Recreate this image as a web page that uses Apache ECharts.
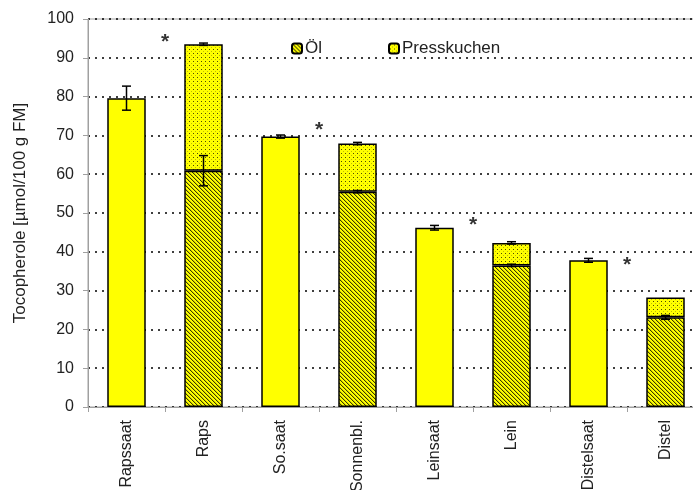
<!DOCTYPE html>
<html>
<head>
<meta charset="utf-8">
<script src="https://cdn.jsdelivr.net/npm/echarts@6/dist/echarts.min.js"></script>
<style>
html,body{margin:0;padding:0;background:#fff}
#main{width:693px;height:490px}
</style>
</head>
<body>
<div id="main"></div>
<script>
var categories = ['Rapssaat', 'Raps', 'So.saat', 'Sonnenbl.', 'Leinsaat', 'Lein', 'Distelsaat', 'Distel'];
var saat = [79.6, '-', 69.7, '-', 46.2, '-', 37.8, '-'];
var oel = ['-', 60.9, '-', 55.5, '-', 36.5, '-', 23.1];
var presskuchen = ['-', 32.6, '-', 12.4, '-', 5.8, '-', 5.1];
var saatErr = [3.1, 0, 0.4, 0, 0.6, 0, 0.5, 0];
var oelErr = [0, 3.9, 0, 0.3, 0, 0.3, 0, 0.5];
var totalErr = [0, 0.3, 0, 0.3, 0, 0.3, 0, 0];
var stars = [[1, 94.8], [3, 72.2], [5, 47.7], [7, 37.4]];

window.onload = function(){
    // Muster fuer Öl (schraffiert) und Presskuchen (gepunktet)
    function makePattern(type){
        var c = document.createElement('canvas');
        c.width = 4; c.height = 4;
        var ctx = c.getContext('2d');
        ctx.fillStyle = '#ffff00';
        ctx.fillRect(0, 0, 4, 4);
        if (type == 'hatch') {
            for (var i = 0; i < 4; i++) {
                ctx.fillStyle = '#3a3a00';
                ctx.fillRect(i, i, 1, 1);
                ctx.fillStyle = 'rgba(0,0,0,0.2)';
                ctx.fillRect((i + 1) % 4, i, 1, 1);
            }
        } else {
            ctx.fillStyle = 'rgba(0,0,0,0.7)';
            ctx.fillRect(1, 1, 1, 1);
            ctx.fillStyle = 'rgba(0,0,0,0.25)';
            ctx.fillRect(3, 3, 1, 1);
        }
        return {image: c, repeat: 'repeat'};
    }

    // Fehlerbalken: Mittelwert + Abweichung
    var errData = [];
    for (var i = 0; i < categories.length; i++) {
        if (saatErr[i] > 0) errData.push([i, saat[i], saatErr[i]]);
        if (oelErr[i] > 0) errData.push([i, oel[i], oelErr[i]]);
        if (totalErr[i] > 0) errData.push([i, oel[i] + presskuchen[i], totalErr[i]]);
    }

    var myChart = echarts.init(document.getElementById('main'));
    var option = {
        animation: false,
        textStyle: {fontFamily: 'Liberation Sans, Arial, sans-serif'},
        grid: {
            left: 88,
            top: 19,
            width: 616,
            bottom: 83,
            containLabel: false,
            outerBoundsMode: 'none',
            show: true,
            borderColor: '#a0a0a0',
            borderWidth: 1,
            backgroundColor: 'transparent'
        },
        legend: {
            left: 286,
            top: 35,
            itemWidth: 10,
            itemHeight: 10,
            itemGap: 66,
            textStyle: {fontSize: 17, color: '#222', padding: [0, 0, 0, -2]},
            data: ['Öl', 'Presskuchen']
        },
        xAxis: [
            {
                type: 'category',
                data: categories,
                axisLine: {lineStyle: {color: '#a0a0a0', width: 1}},
                axisTick: {show: true, length: 5, lineStyle: {color: '#a0a0a0'}},
                axisLabel: {rotate: 90, fontSize: 16, color: '#222', margin: 13, interval: 0}
            },
            {
                type: 'value',
                min: 0,
                max: 8,
                show: false
            }
        ],
        yAxis: {
            type: 'value',
            min: 0,
            max: 100,
            interval: 10,
            name: 'Tocopherole [µmol/100 g FM]',
            nameLocation: 'middle',
            nameGap: 59,
            nameTextStyle: {fontSize: 17, color: '#222'},
            axisLine: {show: true, lineStyle: {color: '#a0a0a0'}},
            axisTick: {show: true, length: 5, lineStyle: {color: '#a0a0a0'}},
            axisLabel: {fontSize: 16, color: '#222', margin: 14},
            splitLine: {lineStyle: {color: '#000', type: [2, 5], width: 1.5}}
        },
        series: [
            {
                name: 'Saat',
                type: 'bar',
                stack: 'a',
                barWidth: '50%',
                data: saat,
                itemStyle: {color: '#ffff00', borderColor: '#000', borderWidth: 1.5}
            },
            {
                name: 'Öl',
                type: 'bar',
                stack: 'a',
                barWidth: '50%',
                data: oel,
                itemStyle: {color: makePattern('hatch'), borderColor: '#000', borderWidth: 1.5}
            },
            {
                name: 'Presskuchen',
                type: 'bar',
                stack: 'a',
                barWidth: '50%',
                data: presskuchen,
                itemStyle: {color: makePattern('dots'), borderColor: '#000', borderWidth: 1.5}
            },
            {
                type: 'custom',
                data: errData,
                z: 10,
                renderItem: function(params, api){
                    var x = api.value(0);
                    var hi = api.coord([x, api.value(1) + api.value(2)]);
                    var lo = api.coord([x, api.value(1) - api.value(2)]);
                    var w = 4.5;
                    var st = {stroke: '#000', lineWidth: 1.5};
                    return {
                        type: 'group',
                        children: [
                            {type: 'line', shape: {x1: hi[0], y1: hi[1], x2: lo[0], y2: lo[1]}, style: st},
                            {type: 'line', shape: {x1: hi[0] - w, y1: hi[1], x2: hi[0] + w, y2: hi[1]}, style: st},
                            {type: 'line', shape: {x1: lo[0] - w, y1: lo[1], x2: lo[0] + w, y2: lo[1]}, style: st}
                        ]
                    };
                }
            },
            {
                type: 'scatter',
                xAxisIndex: 1,
                data: stars,
                symbolSize: 1,
                itemStyle: {color: 'transparent'},
                label: {
                    show: true,
                    position: 'inside',
                    formatter: '*',
                    fontSize: 21,
                    fontWeight: 'bold',
                    color: '#000',
                    offset: [0, 3]
                }
            }
        ]
    };
    myChart.setOption(option);
};
</script>
</body>
</html>
